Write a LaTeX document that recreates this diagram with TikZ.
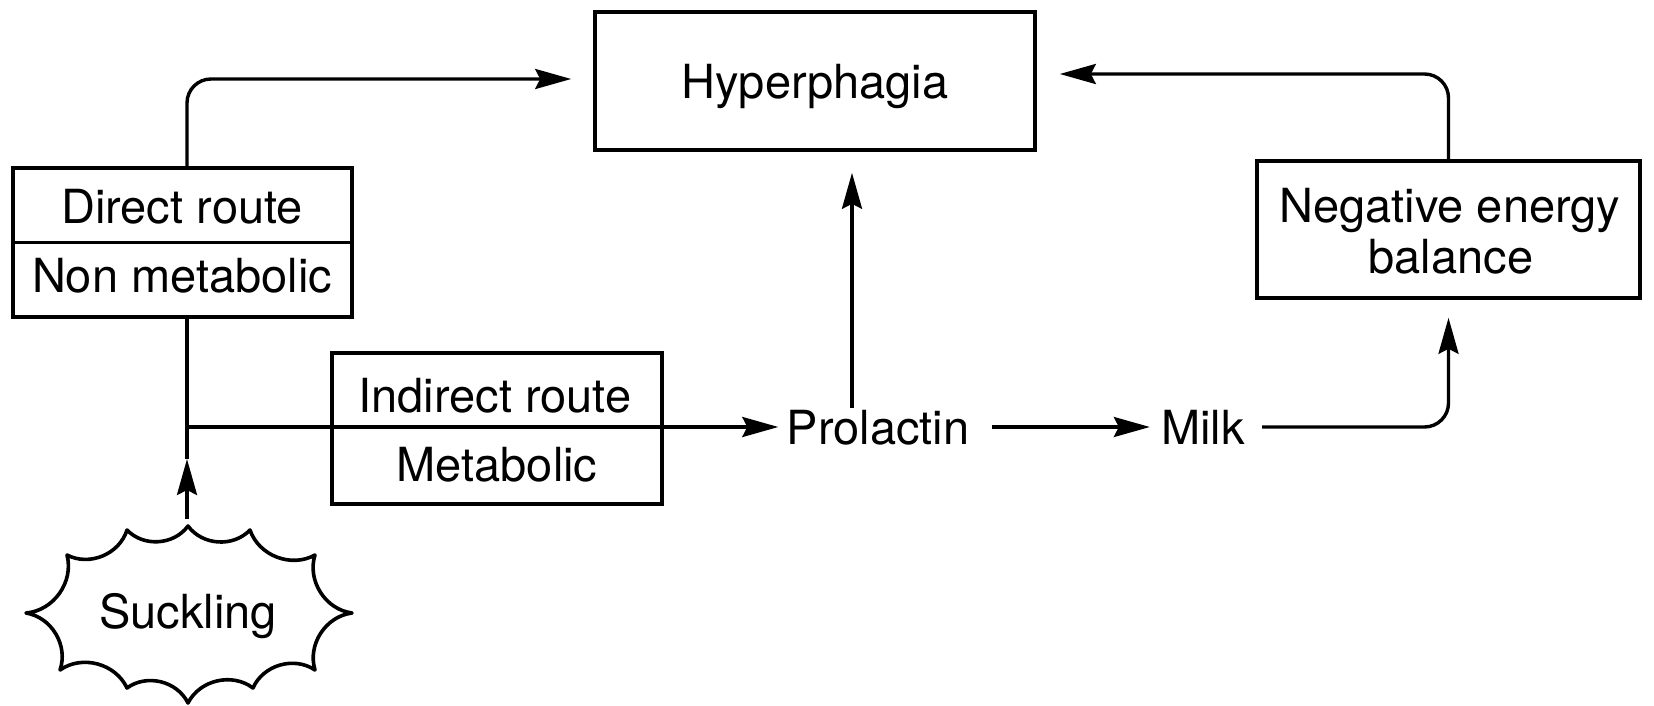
\documentclass[tikz,border=0pt]{standalone}
\usepackage{fontspec}
\setmainfont{TeX Gyre Heros}
\usetikzlibrary{arrows.meta,calc}
\begin{document}
\begin{tikzpicture}[x=0.5pt,y=-0.5pt,
  every node/.style={font=\fontsize{23.5}{28}\selectfont, inner sep=0pt},
  lbl/.style={text height=17pt, text depth=0pt},
  box/.style={draw, line width=1.8pt, lbl},
  wire/.style={line width=1.7pt},
  arr/.style={wire, -{Stealth[length=18pt,width=10pt,inset=2.5pt]}}]
\useasboundingbox (0,0) rectangle (1654,706);

% boxes
\node[box, minimum width=220pt, minimum height=69pt] (hyper) at (815,81) {Hyperphagia};

\node[box, minimum width=169.5pt, minimum height=74.5pt] (direct) at (182.5,242.5) {};
\draw[line width=1.8pt] (direct.west) -- (direct.east);
\node[lbl] (directtop) at (182,206) {Direct route};
\node[lbl] (directbot) at (182,275) {Non metabolic};

\node[box, minimum width=165pt, minimum height=75.5pt] (indirect) at (497,428.5) {};
\node[lbl] (indirecttop) at (495,395) {Indirect route};
\node[lbl] (indirectbot) at (497,464) {Metabolic};

\node[box, minimum width=191.5pt, minimum height=68.5pt] (neb) at (1448.5,229.5) {};
\node[lbl] (nebtop) at (1450,205) {Negative energy};
\node[lbl] (nebbot) at (1451,256) {balance};

% plain labels
\node[lbl] (prol) at (878,427) {Prolactin};
\node[lbl] (milk) at (1203,427) {Milk};
\node[lbl] (suck) at (188,611) {Suckling};

% wavy star-like outline around the suckling label
\draw[line width=1.8pt, line join=round, every to/.style={bend right=50}]
  (188,526) to (250,530) to (315,555) to (352,613) to (315,670)
  to (253,688) to (188,703) to (127,688) to (60,670) to (26,613)
  to (67,555) to (127,530) to (188,526) -- cycle;

% junction points on the suckling stem
\coordinate (cloudtop) at (187,519);
\coordinate (sucktip) at (187,459);
\coordinate (jn) at (187,427);
\coordinate (prolup) at ([xshift=-13pt,yshift=1pt]prol.north);

% connectors
\draw[wire] ([xshift=2.25pt]direct.south) -- (sucktip);
\draw[arr] (cloudtop) -- (sucktip);
\draw[arr] (jn) -- ([xshift=-4pt]prol.west);
\draw[arr, rounded corners=12pt] ([xshift=2.25pt]direct.north) |- ([xshift=-11pt,yshift=1pt]hyper.west);
\draw[arr, rounded corners=12pt] (neb.north) |- ([xshift=11.5pt,yshift=3.5pt]hyper.east);
\draw[arr, shorten >=10.5pt] (prolup) -- (prolup |- hyper.south);
\draw[arr, shorten <=11pt, shorten >=5.5pt] (prol.east) -- (milk.west);
\draw[arr, rounded corners=12pt, shorten <=8.5pt, shorten >=9pt] (milk.east) -| (neb.south);
\end{tikzpicture}
\end{document}
